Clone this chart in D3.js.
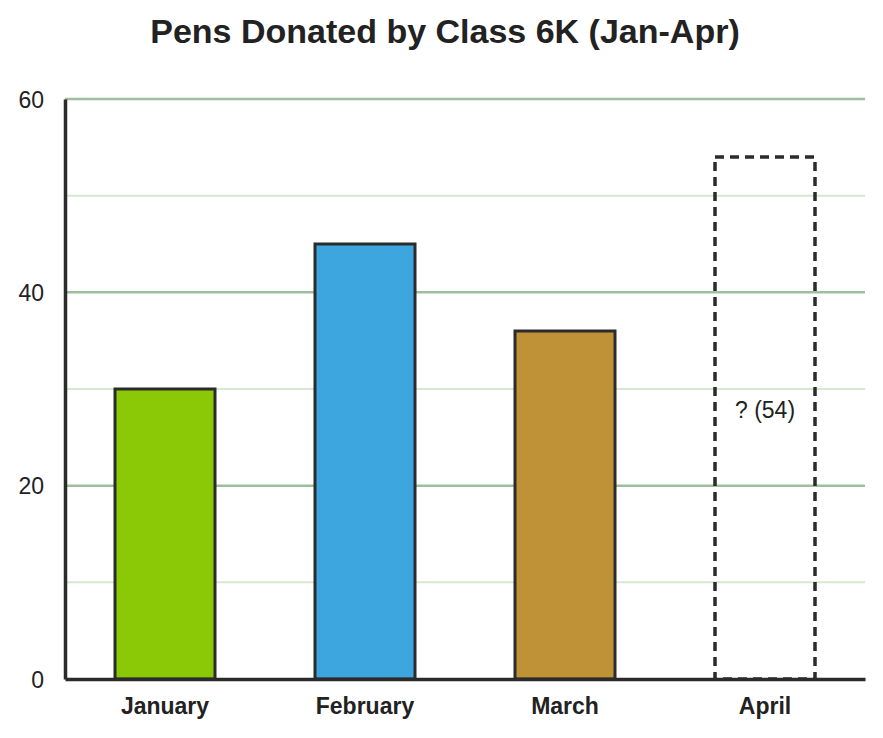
<!DOCTYPE html>
<html lang="en">
<head>
    <meta charset="UTF-8">
    <title>Pens Donated by Class 6K</title>
    <script src="https://d3js.org/d3.v7.min.js"></script>
    <style>
        body { margin: 0; background: #fff; }
        text { font-family: "Liberation Sans", Arial, sans-serif; fill: #222; }
    </style>
</head>
<body>
    <svg width="883" height="738"></svg>

    <script>
        // Data
        const months = ["January", "February", "March", "April"];
        const pens = [30, 45, 36, 54];
        const unknown = [false, false, false, true];
        const barColors = ["#8bc806", "#3ea6df", "#bf9237", "none"];
        const yTicks = [0, 20, 40, 60];
        const yMinor = [10, 30, 50];

        const svg = d3.select("svg"),
            margin = { top: 99, right: 18, bottom: 59, left: 65 },
            width = +svg.attr("width") - margin.left - margin.right,
            height = +svg.attr("height") - margin.top - margin.bottom,
            g = svg.append("g").attr("transform", "translate(" + margin.left + "," + margin.top + ")");

        const x = d3.scaleBand().domain(months).range([0, width]).paddingInner(0.5).paddingOuter(0.25);
        const y = d3.scaleLinear().domain([0, 60]).range([height, 0]);

        // minor grid
        g.selectAll(".minor")
            .data(yMinor)
            .enter().append("line")
            .attr("x1", 0).attr("x2", width)
            .attr("y1", d => y(d)).attr("y2", d => y(d))
            .style("stroke", "#d6e8d0")
            .style("stroke-width", 2);

        // major grid
        g.selectAll(".major")
            .data(yTicks.filter(d => d > 0))
            .enter().append("line")
            .attr("x1", 0).attr("x2", width)
            .attr("y1", d => y(d)).attr("y2", d => y(d))
            .style("stroke", "#9dbf9b")
            .style("stroke-width", 2.5);

        // bars
        const data = months.map((m, i) => ({ month: m, value: pens[i], unknown: unknown[i], color: barColors[i] }));

        g.selectAll(".bar")
            .data(data)
            .enter().append("rect")
            .attr("class", "bar")
            .attr("x", d => x(d.month))
            .attr("y", d => y(d.value))
            .attr("width", x.bandwidth())
            .attr("height", d => height - y(d.value))
            .style("fill", d => d.color)
            .style("stroke", "#2b2b2b")
            .style("stroke-width", d => d.unknown ? 3.5 : 3)
            .style("stroke-dasharray", d => d.unknown ? "9,6" : null);

        // label for unknown bar
        g.selectAll(".qlabel")
            .data(data.filter(d => d.unknown))
            .enter().append("text")
            .attr("x", d => x(d.month) + x.bandwidth() / 2)
            .attr("y", d => (y(d.value) + height) / 2)
            .attr("text-anchor", "middle")
            .style("font-size", "23px")
            .text(d => "? (" + d.value + ")");

        // y axis
        const yAxis = g.append("g")
            .call(d3.axisLeft(y).tickValues(yTicks).tickSize(0).tickPadding(21));
        yAxis.select(".domain").style("stroke", "#2b2b2b").style("stroke-width", 3.5);
        yAxis.selectAll("text")
            .style("font-size", "23px")
            .attr("dy", "0.35em");

        // x axis
        const xAxis = g.append("g")
            .attr("transform", "translate(0," + height + ")")
            .call(d3.axisBottom(x).tickSize(0).tickPadding(19));
        xAxis.select(".domain").style("stroke", "#2b2b2b").style("stroke-width", 3.5);
        xAxis.selectAll("text")
            .style("font-size", "23px")
            .style("font-weight", "bold");

        // title
        svg.append("text")
            .attr("x", 445)
            .attr("y", 43)
            .attr("text-anchor", "middle")
            .style("font-size", "34px")
            .style("font-weight", "bold")
            .text("Pens Donated by Class 6K (Jan-Apr)");
    </script>
</body>
</html>
